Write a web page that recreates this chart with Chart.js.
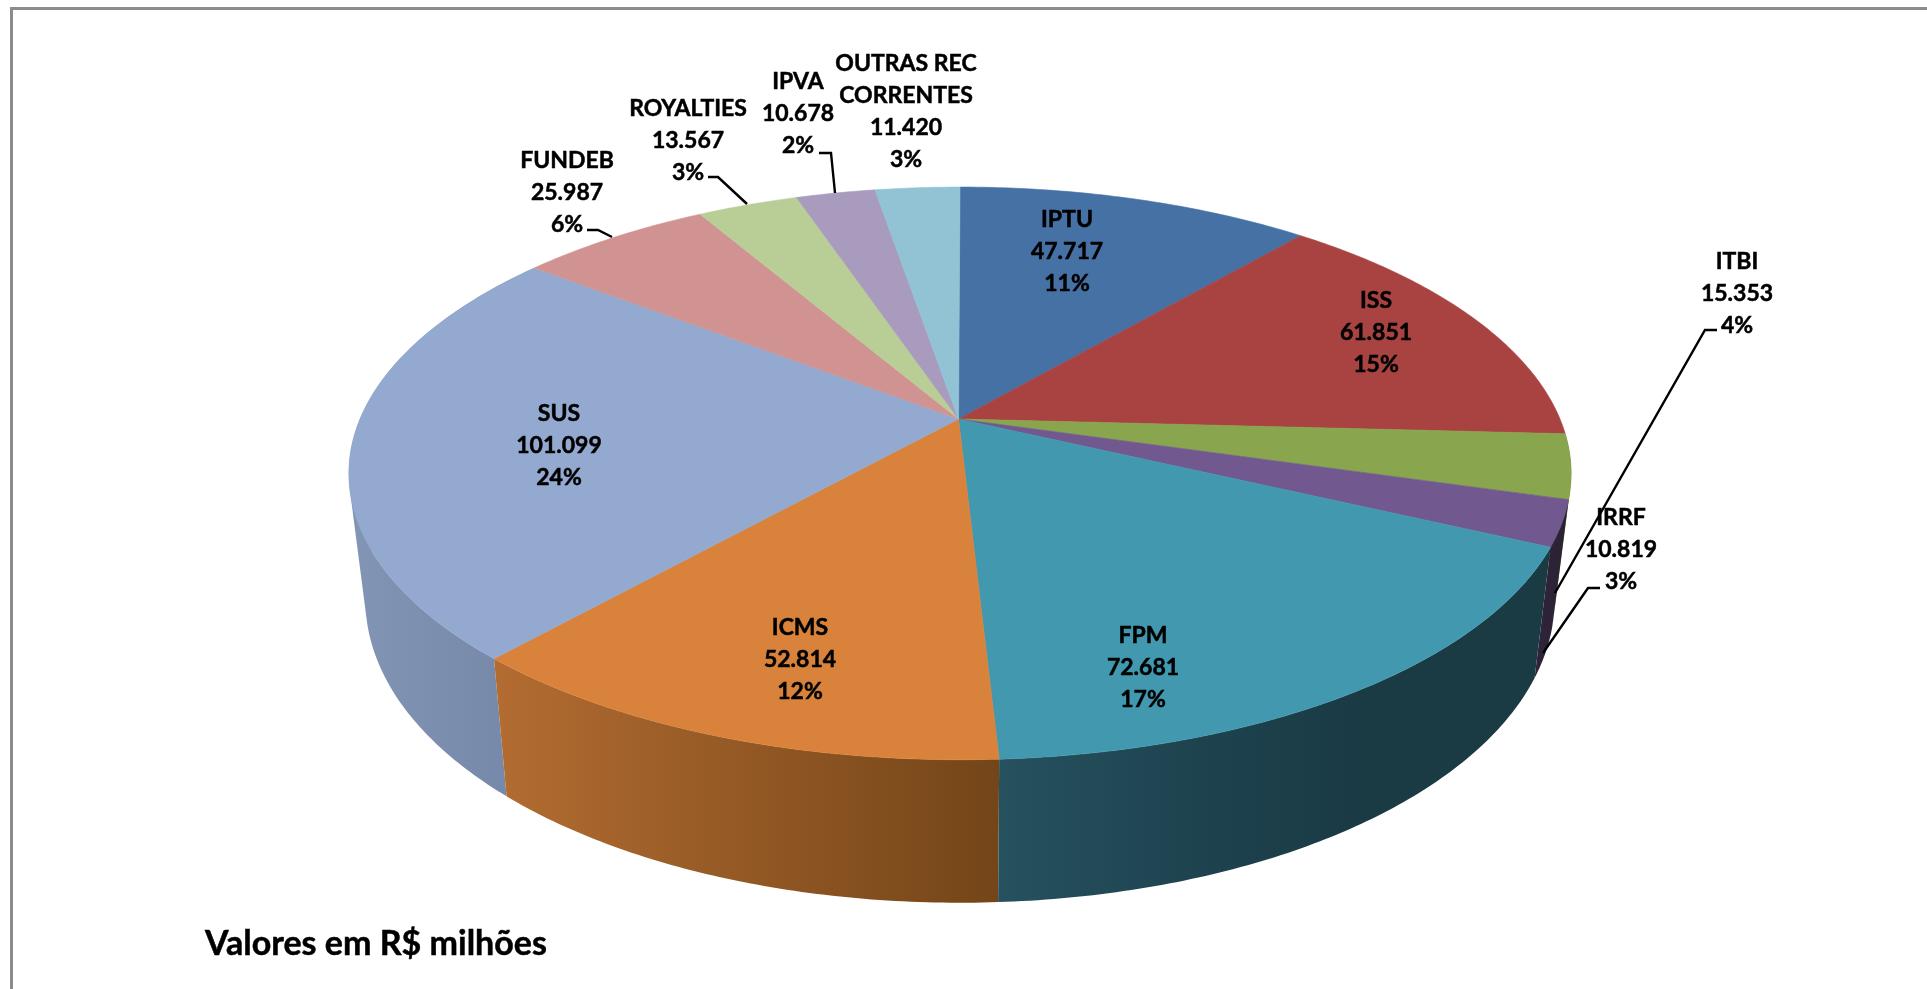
<!DOCTYPE html>
<html lang="pt-BR">
<head>
<meta charset="utf-8">
<title>Receitas</title>
<script src="https://cdn.jsdelivr.net/npm/chart.js@4"></script>
<style>
  html, body { margin: 0; padding: 0; background: #fff; overflow: hidden; }
  #wrap { position: relative; width: 1927px; height: 989px; }
  #frame { position: absolute; left: 10px; top: 7px; width: 1930px; height: 1000px; border: 3px solid #8c8c8c; }
  canvas { position: absolute; left: 0; top: 0; }
</style>
</head>
<body>
<div id="wrap">
  <div id="frame"></div>
  <canvas id="pie" width="1927" height="989"></canvas>
</div>
<script>
const names = ["IPTU", "ISS", "ITBI", "IRRF", "FPM", "ICMS", "SUS", "FUNDEB", "ROYALTIES", "IPVA", "OUTRAS REC\nCORRENTES"];
const values = [47.717, 61.851, 15.353, 10.819, 72.681, 52.814, 101.099, 25.987, 13.567, 10.678, 11.420];
const percents = ["11%", "15%", "4%", "3%", "17%", "12%", "24%", "6%", "3%", "2%", "3%"];
const note = "Valores em R$ milhões";

const topColors = ["#4571A5", "#A84341", "#89A54E", "#71588F", "#4198AF", "#D9823B", "#93A9CF", "#D19392", "#B9CD96", "#A99BBD", "#91C3D5"];
// wall shading, evenly spaced stops from left to right (back slices never show)
const wallColors = [null, null, ["#5d7232", "#5d7232"], ["#2f2439", "#2b2135"], ["#26515f", "#1e4450", "#1a3a44", "#1a3a44"],
  ["#b36c31", "#734518"], ["#8295b4", "#7386a7"], null, null, null, null];

// label anchor: centre x, baseline of first line
const labelPos = [[1067, 227], [1376, 308], [1737, 269], [1621, 525], [1143, 643], [800, 635],
  [559, 421], [567, 168], [688, 116], [798, 89], [906, 71]];
const leaders = [
  [[1717, 330], [1705, 330], [1555, 593]],
  [[1600, 588], [1588, 588], [1543, 653]],
  [[587, 230], [598, 230], [612, 237]],
  [[708, 177], [718, 177], [747, 204]],
  [[819, 153], [831, 153], [835, 193]],
];

const LABEL_FONT = "bold 23px Lato";
const NOTE_FONT = "bold 34px Lato";
const LINE_H = 32;

// perspective of the pie disc: apex and circle to screen
const APEX_X = 958.5, CX = 960, CY = 419, RX = 600, RY = 276, PERSP = 0.19;

function rim(angle) {
  const u = Math.cos(angle), v = Math.sin(angle);
  const w = 1 - PERSP * v;
  return { x: CX + RX * u / w, y: CY + RY * v / w, v };
}

function foot(p) {
  return { x: CX + (p.x - CX) * 0.973, y: p.y + 122 + 21 * p.v };
}

function sampleArc(arc) {
  const n = Math.max(4, Math.ceil((arc.endAngle - arc.startAngle) * 90));
  const pts = [];
  for (let i = 0; i <= n; i++) pts.push(rim(arc.startAngle + (arc.endAngle - arc.startAngle) * i / n));
  return pts;
}

function quadArea(q) {
  let s = 0;
  q.forEach((p, i) => {
    const r = q[(i + 1) % q.length];
    s += p.x * r.y - r.x * p.y;
  });
  return s;
}

function drawWall(ctx, arc, colors) {
  const top = sampleArc(arc);
  const bottom = top.map(foot);
  const xs = top.concat(bottom).map(p => p.x);
  const grad = ctx.createLinearGradient(Math.min(...xs), 0, Math.max(...xs), 0);
  colors.forEach((c, i) => grad.addColorStop(i / (colors.length - 1), c));
  // one quad per step, all wound the same way so the side edge of the disc fills in
  ctx.beginPath();
  for (let i = 0; i < top.length - 1; i++) {
    const q = [top[i], top[i + 1], bottom[i + 1], bottom[i]];
    if (quadArea(q) < 0) q.reverse();
    q.forEach((p, j) => j ? ctx.lineTo(p.x, p.y) : ctx.moveTo(p.x, p.y));
    ctx.closePath();
  }
  ctx.fillStyle = grad;
  ctx.fill("nonzero");
}

function drawTop(ctx, arc, color) {
  ctx.beginPath();
  ctx.moveTo(APEX_X, CY);
  sampleArc(arc).forEach(p => ctx.lineTo(p.x, p.y));
  ctx.closePath();
  ctx.fillStyle = color;
  ctx.strokeStyle = color;
  ctx.lineWidth = 0.6;
  ctx.fill();
  ctx.stroke();
}

// the library works out the slice angles, this only projects them into the tilted view
const tiltedPie = {
  id: "tiltedPie",
  beforeDatasetDraw(chart) {
    const ctx = chart.ctx;
    const arcs = chart.getDatasetMeta(0).data;
    ctx.save();
    [2, 3, 6, 5, 4].forEach(i => drawWall(ctx, arcs[i], wallColors[i]));
    arcs.forEach(arc => drawTop(ctx, arc, arc.options.backgroundColor));
    ctx.restore();
    return false;
  },
  afterDraw(chart) {
    const ctx = chart.ctx;
    ctx.save();
    ctx.strokeStyle = "#000";
    ctx.lineWidth = 2.4;
    leaders.forEach(pts => {
      ctx.beginPath();
      pts.forEach((p, i) => i ? ctx.lineTo(p[0], p[1]) : ctx.moveTo(p[0], p[1]));
      ctx.stroke();
    });
    ctx.fillStyle = "#000";
    ctx.lineWidth = 0.5;
    ctx.font = LABEL_FONT;
    ctx.textAlign = "center";
    ctx.textBaseline = "alphabetic";
    names.forEach((name, i) => {
      const lines = name.split("\n").concat([values[i].toFixed(3), percents[i]]);
      lines.forEach((t, j) => {
        ctx.fillText(t, labelPos[i][0], labelPos[i][1] + j * LINE_H);
        ctx.strokeText(t, labelPos[i][0], labelPos[i][1] + j * LINE_H);
      });
    });
    ctx.font = NOTE_FONT;
    ctx.textAlign = "left";
    ctx.fillText(note, 205, 955);
    ctx.strokeText(note, 205, 955);
    ctx.restore();
  },
};

new Chart(document.getElementById("pie"), {
  type: "pie",
  data: {
    labels: names,
    datasets: [{ data: values, backgroundColor: topColors, borderWidth: 0 }],
  },
  options: {
    responsive: false,
    animation: false,
    plugins: { legend: { display: false }, tooltip: { enabled: false } },
  },
  plugins: [tiltedPie],
});
</script>
</body>
</html>
